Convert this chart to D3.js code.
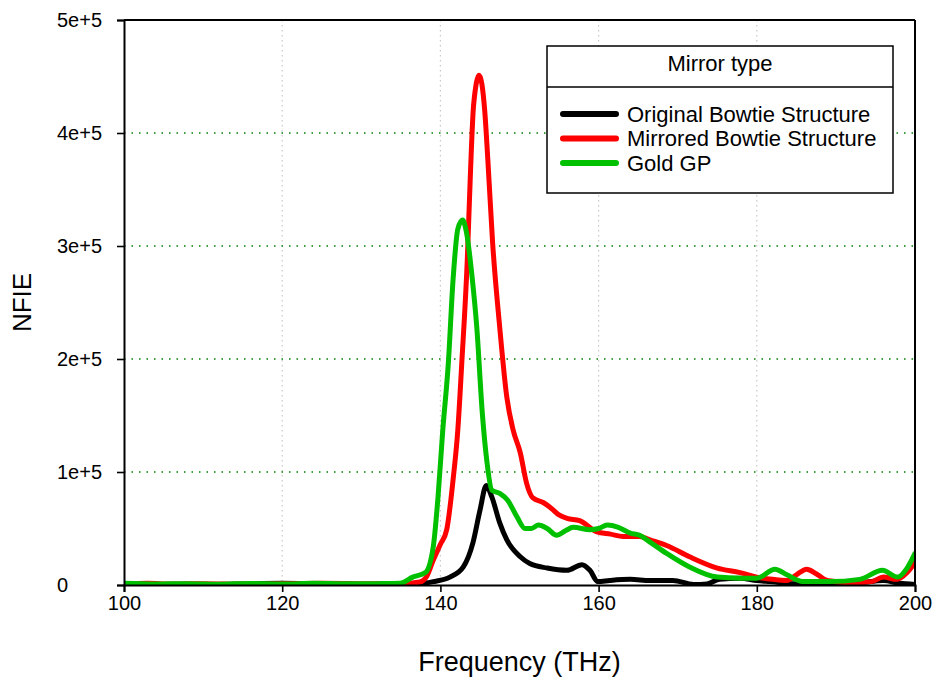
<!DOCTYPE html>
<html>
<head>
<meta charset="utf-8">
<script src="https://cdn.jsdelivr.net/npm/d3@7/dist/d3.min.js"></script>
<style>
  html, body { margin: 0; padding: 0; background: #fff; }
  svg { display: block; font-family: Arial, "Liberation Sans", sans-serif; }
</style>
</head>
<body>
<svg id="chart" width="936" height="681"></svg>
<script>
// Axis ticks
const xTicks = [100, 120, 140, 160, 180, 200];
const yTicks = [0, 100000, 200000, 300000, 400000, 500000];
const yTickLabels = ["0", "1e+5", "2e+5", "3e+5", "4e+5", "5e+5"];

// Series names
const seriesNames = ["Original Bowtie Structure", "Mirrored Bowtie Structure", "Gold GP"];

// Original Bowtie Structure
const freqOriginal = [100, 110, 120, 125, 130, 135, 137, 139.1, 141.2, 142.9, 144.1, 145.0, 145.8, 146.5, 147.5, 148.4, 150.1, 151.3, 153.5, 156.0, 157.9, 158.9, 159.9, 161.4, 164, 166.5, 169.4, 172, 173.7, 175.3, 177.9, 180, 181.7, 185, 190, 193, 196, 198, 200];
const nfieOriginal = [500, 300, 1500, 800, 500, 800, 1000, 3000, 7000, 16000, 37000, 66000, 88000, 78000, 55000, 40000, 25000, 19000, 15000, 13000, 18000, 13000, 3000, 4000, 5000, 4000, 4000, 500, 1000, 5000, 6000, 4000, 3000, 1000, 1000, 2000, 4000, 1500, 500];

// Mirrored Bowtie Structure
const freqMirrored = [100, 103, 106, 110, 115, 120, 125, 130, 134, 136, 137.4, 138.3, 139.1, 140.0, 140.8, 141.6, 142.2, 142.7, 143.4, 143.8, 144.2, 144.9, 145.6, 146.0, 146.6, 147.5, 148.4, 149.2, 150.1, 150.9, 151.7, 153.0, 154.0, 155.0, 156.0, 157.6, 159.8, 161.5, 163.1, 165.2, 166.5, 168.6, 171.5, 175.0, 177.9, 180.0, 182.0, 183.8, 185.0, 186.3, 187.5, 188.9, 192.2, 194.5, 196.0, 197.7, 199.0, 200.0];
const nfieMirrored = [500, 1500, 800, 1200, 600, 1000, 1500, 1200, 1000, 1500, 2600, 8000, 22000, 36000, 49000, 93000, 137000, 196000, 288000, 365000, 425000, 451000, 420000, 376000, 303000, 228000, 166000, 137000, 117000, 90000, 77000, 73000, 68000, 62000, 59000, 57000, 47000, 45000, 43000, 43000, 40000, 35000, 25000, 15000, 11000, 7000, 5000, 4000, 9000, 14000, 10000, 4000, 2000, 3000, 7000, 5000, 11000, 20000];

// Gold GP
const freqGold = [100, 104, 108, 112, 116, 120, 124, 128, 132, 134.9, 136.5, 138.1, 139.1, 139.7, 140.3, 141.0, 141.6, 142.2, 142.8, 143.3, 144.0, 144.6, 145.3, 145.9, 146.5, 147.5, 148.5, 149.7, 150.7, 151.5, 152.4, 153.5, 154.7, 155.8, 156.8, 158.9, 160.0, 161.1, 162.5, 164.0, 165.2, 166.5, 168.6, 171.5, 175.0, 177.9, 180.0, 182.3, 183.8, 185.8, 189.2, 193.0, 195.9, 197.8, 199.0, 200.0];
const nfieGold = [1500, 800, 1200, 700, 1300, 900, 1500, 1000, 1200, 1500, 7000, 11000, 34000, 78000, 137000, 196000, 270000, 315000, 323000, 312000, 273000, 228000, 152000, 108000, 84000, 81000, 75000, 60000, 50000, 50000, 53000, 50000, 44000, 48000, 51000, 49000, 50000, 53000, 51000, 46000, 44000, 38000, 28000, 16000, 7000, 6000, 6000, 14000, 9000, 3000, 3000, 5000, 13000, 7000, 15000, 28000];

const seriesColors = ["#000000", "#ff0000", "#00c000"];

const svg = d3.select("#chart");
const plot = { left: 124, right: 915, top: 20, bottom: 585 };

const x = d3.scaleLinear().domain([100, 200]).range([plot.left, plot.right]);
const y = d3.scaleLinear().domain([0, 500000]).range([plot.bottom, plot.top]);

// Grid lines
svg.append("g").selectAll("line")
  .data(xTicks.slice(1, -1))
  .join("line")
  .attr("x1", d => x(d)).attr("x2", d => x(d))
  .attr("y1", plot.top).attr("y2", plot.bottom)
  .attr("stroke", "#c8c8c8").attr("stroke-width", 1.2)
  .attr("stroke-dasharray", "1.5,3.5");

svg.append("g").selectAll("line")
  .data(yTicks.slice(1, -1))
  .join("line")
  .attr("x1", plot.left).attr("x2", plot.right)
  .attr("y1", d => y(d)).attr("y2", d => y(d))
  .attr("stroke", "#008000").attr("stroke-width", 1.3)
  .attr("stroke-dasharray", "1.5,6");

// Data lines
svg.append("defs").append("clipPath").attr("id", "plotClip")
  .append("rect")
  .attr("x", plot.left).attr("y", plot.top - 5)
  .attr("width", plot.right - plot.left).attr("height", plot.bottom - plot.top + 5);

const line = d3.line()
  .x(d => x(d[0]))
  .y(d => y(d[1]))
  .curve(d3.curveMonotoneX);

const seriesData = [
  d3.zip(freqOriginal, nfieOriginal),
  d3.zip(freqMirrored, nfieMirrored),
  d3.zip(freqGold, nfieGold)
];

svg.append("g").attr("clip-path", "url(#plotClip)")
  .selectAll("path")
  .data(seriesData)
  .join("path")
  .attr("d", line)
  .attr("fill", "none")
  .attr("stroke", (d, i) => seriesColors[i])
  .attr("stroke-width", 5)
  .attr("stroke-linejoin", "round")
  .attr("stroke-linecap", "round");

// Axes
const xAxis = svg.append("g")
  .attr("transform", `translate(0,${plot.bottom})`)
  .call(d3.axisBottom(x).tickValues(xTicks).tickSize(7).tickPadding(4).tickFormat(d3.format("d")));
const yAxis = svg.append("g")
  .attr("transform", `translate(${plot.left},0)`)
  .call(d3.axisLeft(y).tickValues(yTicks).tickSize(7).tickPadding(8)
    .tickFormat((d, i) => yTickLabels[i]));

[xAxis, yAxis].forEach(g => {
  g.select(".domain").attr("stroke", "#000").attr("stroke-width", 2);
  g.selectAll(".tick line").attr("stroke", "#000").attr("stroke-width", 1.6);
  g.selectAll(".tick text")
    .attr("fill", "#000")
    .style("font-size", "20px")
    .style("font-family", "Arial, 'Liberation Sans', sans-serif");
});
// y tick labels share a common left edge
yAxis.selectAll(".tick text")
  .attr("text-anchor", "start")
  .attr("x", 57 - plot.left);

// Frame top and right
svg.append("line")
  .attr("x1", plot.left).attr("x2", plot.right)
  .attr("y1", plot.top).attr("y2", plot.top)
  .attr("stroke", "#000").attr("stroke-width", 2);
svg.append("line")
  .attr("x1", plot.right).attr("x2", plot.right)
  .attr("y1", plot.top).attr("y2", plot.bottom)
  .attr("stroke", "#000").attr("stroke-width", 2);

// Axis titles
svg.append("text")
  .attr("x", (plot.left + plot.right) / 2)
  .attr("y", 671)
  .attr("text-anchor", "middle")
  .style("font-size", "27px")
  .text("Frequency (THz)");

svg.append("text")
  .attr("transform", `translate(31,${(plot.top + plot.bottom) / 2}) rotate(-90)`)
  .attr("text-anchor", "middle")
  .style("font-size", "26px")
  .text("NFIE");

// Legend
const legend = svg.append("g").attr("transform", "translate(547,46)");
const legW = 346, legH = 147, titleH = 41;
legend.append("rect")
  .attr("width", legW).attr("height", legH)
  .attr("fill", "#fff").attr("stroke", "#000").attr("stroke-width", 1.5);
legend.append("line")
  .attr("x1", 0).attr("x2", legW)
  .attr("y1", titleH).attr("y2", titleH)
  .attr("stroke", "#000").attr("stroke-width", 1.5);
legend.append("text")
  .attr("x", legW / 2).attr("y", titleH / 2 - 3)
  .attr("dy", "0.35em")
  .attr("text-anchor", "middle")
  .style("font-size", "22px")
  .text("Mirror type");

const rows = legend.selectAll("g.row")
  .data(seriesNames)
  .join("g")
  .attr("class", "row")
  .attr("transform", (d, i) => `translate(0,${68 + i * 24.5})`);
rows.append("line")
  .attr("x1", 16).attr("x2", 69)
  .attr("stroke", (d, i) => seriesColors[i])
  .attr("stroke-width", 6)
  .attr("stroke-linecap", "round");
rows.append("text")
  .attr("x", 80).attr("dy", "0.35em")
  .style("font-size", "22px")
  .text(d => d);
</script>
</body>
</html>
